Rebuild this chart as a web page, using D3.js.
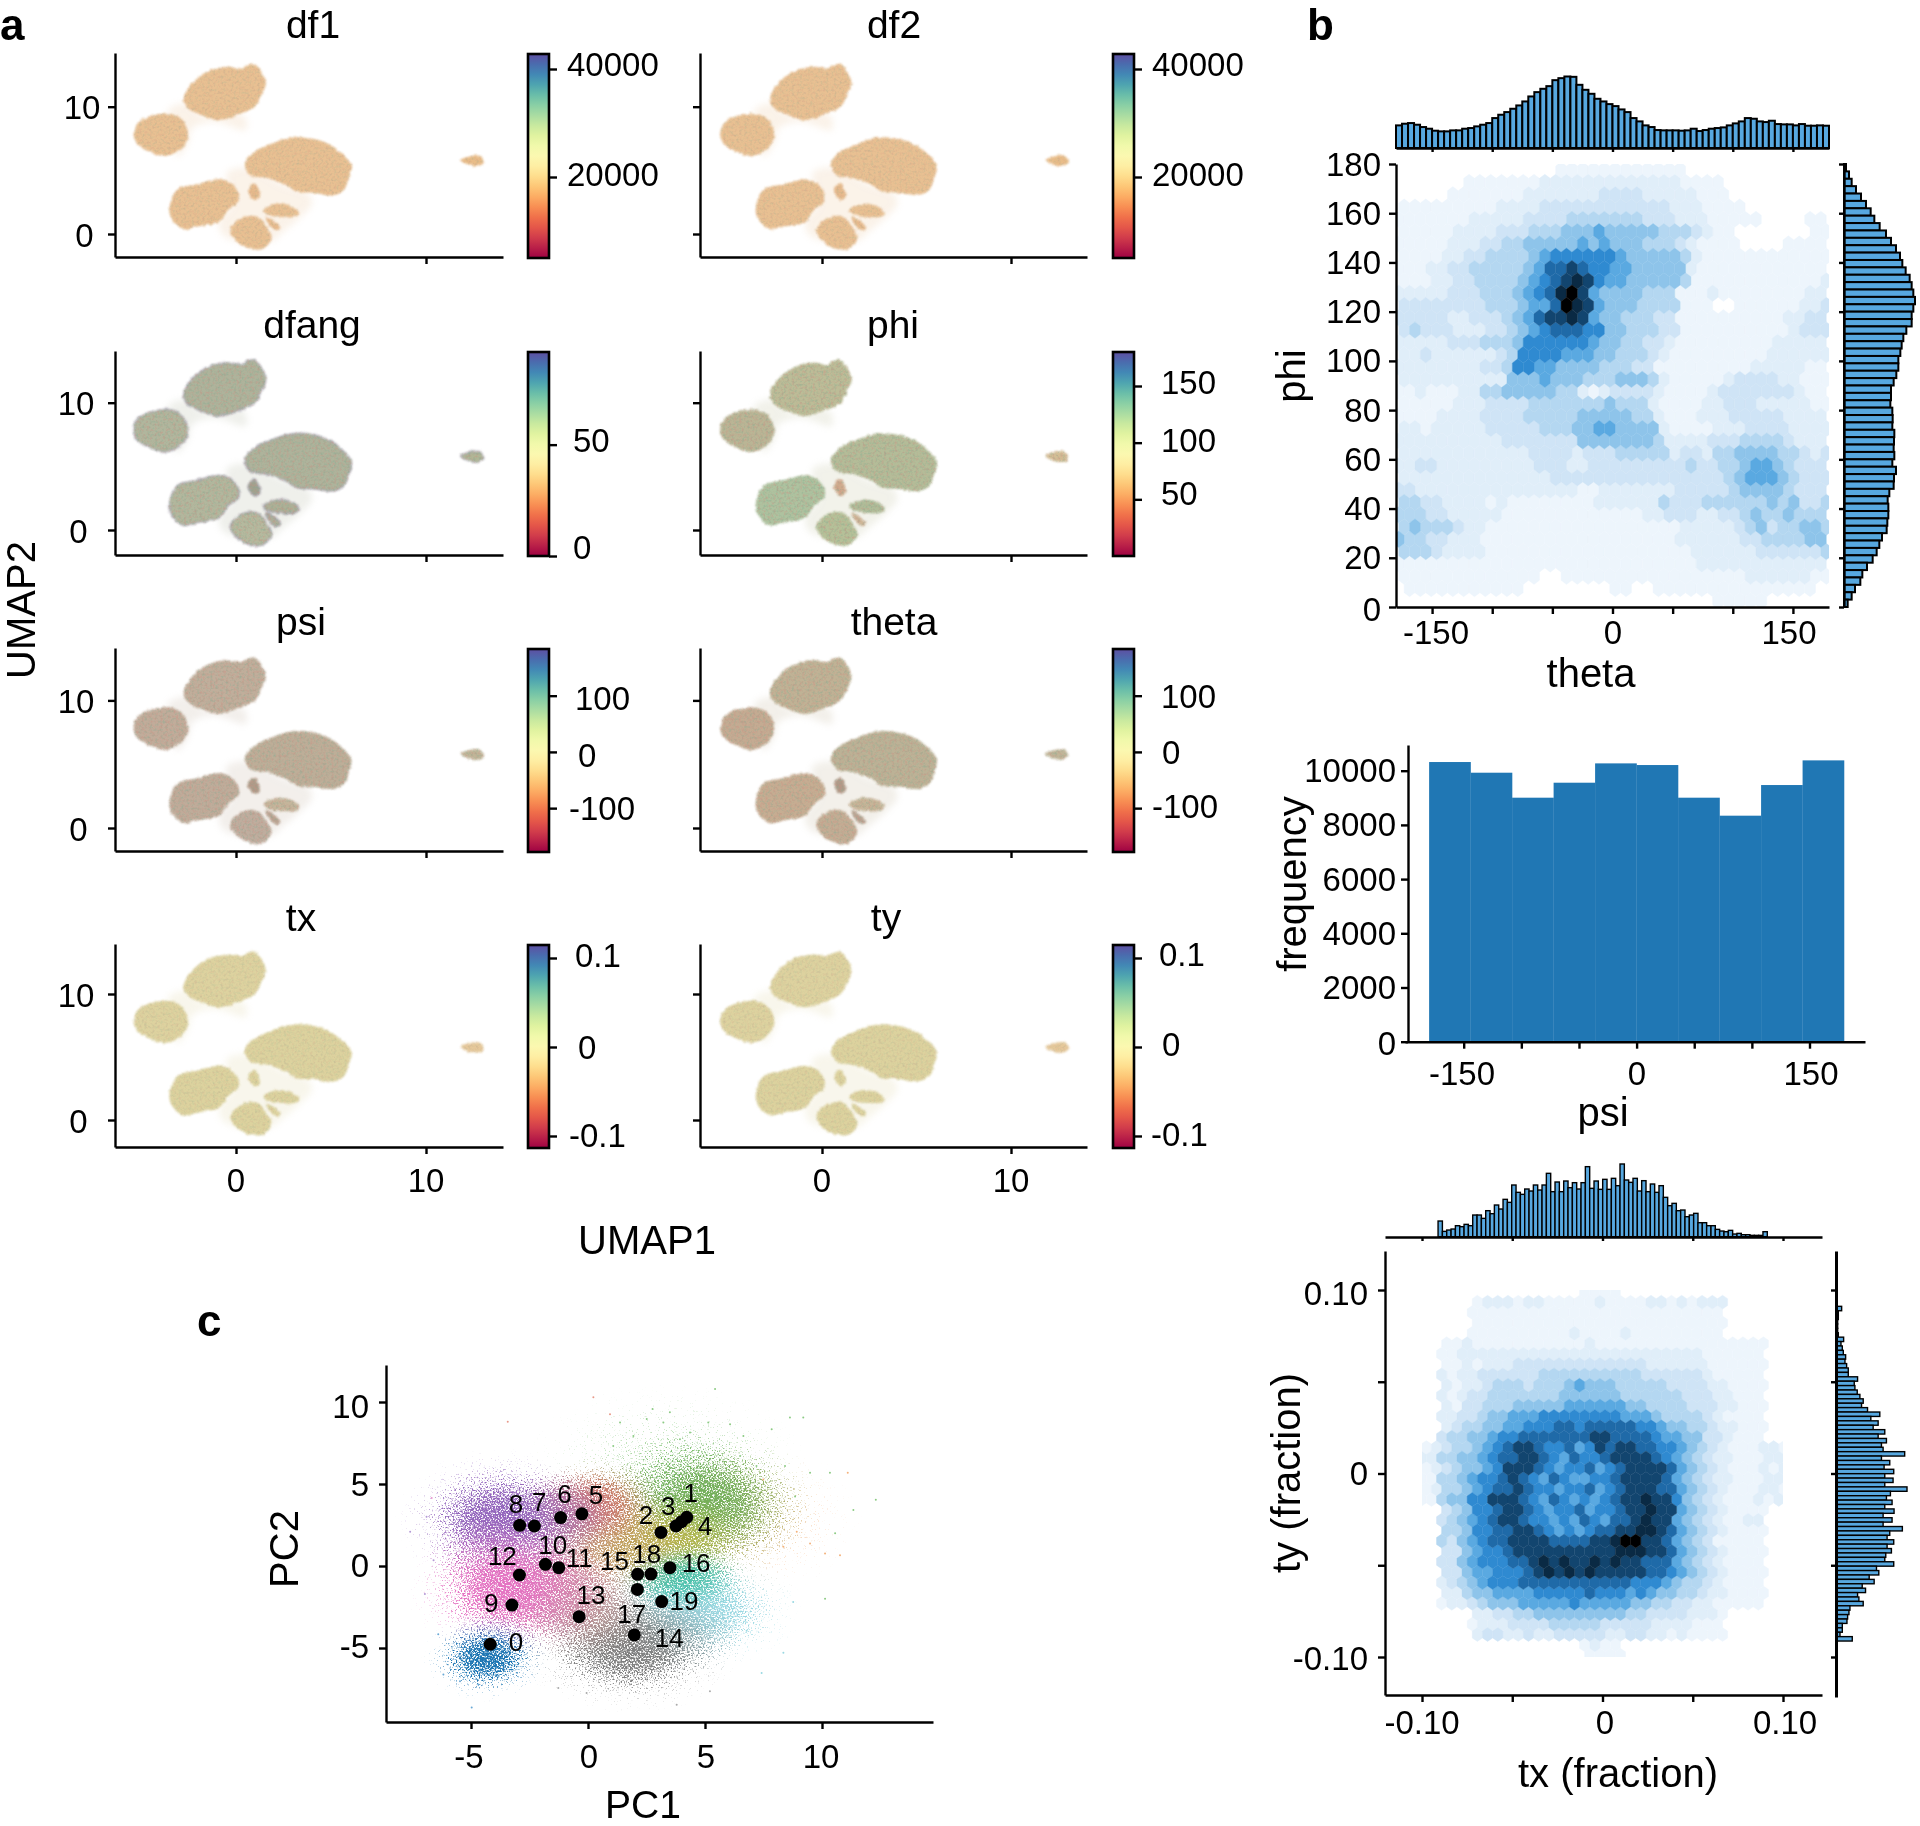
<!DOCTYPE html>
<html><head><meta charset="utf-8">
<script src="https://cdn.jsdelivr.net/npm/d3@7"></script>
<style>
html,body{margin:0;padding:0;background:#fff}
svg{display:block;filter:blur(.55px)}
text{font-family:"Liberation Sans",Arial,sans-serif;fill:#000}
</style></head><body><svg id="c" width="1920" height="1826"></svg>
<script>
// ---------- DATA ----------
const panelNames=["df1","df2","dfang","phi","psi","theta","tx","ty"];
// UMAP blob outlines [x,y] in UMAP units
const blobA=[[-2.76,10.52],[-2.53,11.44],[-1.94,12.36],[-1.24,12.93],[-.42,13.14],[.28,13.01],[.63,13.27],[.98,13.35],[1.33,12.75],[1.57,11.83],[1.33,10.92],[.98,10],[.28,9.48],[-.89,8.95],[-1.83,9.35],[-2.53,9.87]];
const blobB=[[-5.39,7.91],[-5.11,8.82],[-4.29,9.35],[-3.35,9.4],[-2.76,8.82],[-2.53,7.64],[-2.88,6.73],[-3.7,6.13],[-4.52,6.47],[-5.22,7.12]];
const blobC=[[.47,5.55],[.87,6.34],[1.69,6.99],[3.09,7.59],[4.73,7.17],[5.55,6.34],[6.07,5.37],[5.9,4.24],[5.67,3.46],[5.08,3.06],[4.03,3.25],[3.21,3.32],[2.62,3.85],[1.69,4.37],[.75,4.63]];
const blobD=[[-3.51,1.88],[-3.11,3.46],[-2.06,3.9],[-.77,4.29],[-.07,3.72],[.16,2.67],[-.42,1.88],[-.89,.97],[-2.06,.58],[-2.76,.37],[-3.35,1.1]];
const blobE=[[-.3,.31],[.28,1.23],[1.1,1.36],[1.69,.31],[1.87,-.34],[1.45,-1.13],[.87,-1.2],[.05,-.6]];
const blobF=[[1.45,1.88],[2.15,2.36],[2.97,2.15],[3.33,1.62],[3.09,1.36],[2.27,1.36],[1.69,1.49]];
const blobG=[[.63,3.46],[.98,3.98],[1.26,2.93],[.98,2.67]];
const blobH=[[1.57,1.36],[2.04,.97],[2.34,.45],[2.11,.31],[1.69,.84]];
const blobIsland=[[11.83,5.81],[12.22,6.07],[12.81,6.15],[13.04,5.68],[12.81,5.37],[12.27,5.42]];
const hazeUpper=[[-3.58,9.74],[-2.53,10.26],[-1.83,9.35],[.4,9.35],[.52,8.17],[-1.12,8.82],[-2.3,8.3],[-2.53,7.12],[-3.1,6.07],[-3.4,8.6]];
const hazeLower=[[-.5,4.8],[.8,5.2],[2.5,3.9],[3.8,3.2],[4,2.4],[3.3,1.2],[2.5,.2],[1.8,-.6],[-.6,-.2],[-.9,1],[-.2,2.5]];
const blobs=[blobA,blobB,blobC,blobD,blobE,blobF,blobG,blobH,blobIsland];
const hazes=[hazeUpper,hazeLower];
// blob colours per panel (A,B,C,D,E,F,G,H,island)
const fills={
 df1:["#e8c092","#e8c092","#e8c092","#e8c092","#e8c092","#e8c092","#e6ba8c","#e6ba8c","#e8bc88"],
 df2:["#e8c092","#e8c092","#e8c092","#e8c092","#e8c092","#e8c092","#e6ba8c","#e6ba8c","#e8bc88"],
 dfang:["#aeb39b","#b1b69d","#aeb39b","#b2b79d","#b5b99e","#adb096","#a0a28e","#aeae96","#b0b696"],
 phi:["#bcbc97","#bab595","#b4bc98","#aec29f","#b5c098","#b0bc98","#cfaa8c","#ccb394","#d3bd95"],
 psi:["#c0ae9b","#c1ac9a","#bdae98","#bfac9a","#bfad9e","#c5b59b","#b09a88","#b8a290","#c0b598"],
 theta:["#c0b295","#c4ab92","#bcb296","#c6ad92","#c3ad94","#c6b598","#b09a88","#b8a290","#c0b598"],
 tx:["#ddd29f","#ddd29f","#dcd29e","#dcd29e","#dcd29e","#dcd29e","#dcd29e","#dcd29e","#e5c89a"],
 ty:["#ddd29f","#ddd29f","#dcd29e","#dcd29e","#dcd29e","#dcd29e","#dcd29e","#dcd29e","#e5c89a"]
};
// speckle strength per panel
const mottle={df1:.14,df2:.14,dfang:.28,phi:.28,psi:.28,theta:.28,tx:.12,ty:.12};
// colourbar ranges and ticks
const barDomains={df1:[5000,42778],df2:[5000,42778],dfang:[0,91.6],phi:[0,180],psi:[-178,183],theta:[-178,183],tx:[-.1135,.1146],ty:[-.1135,.1146]};
const barTicks={df1:[20000,40000],df2:[20000,40000],dfang:[0,50],phi:[50,100,150],psi:[-100,0,100],theta:[-100,0,100],tx:[-.1,0,.1],ty:[-.1,0,.1]};
const umapXTicks=[0,10], umapYTicks=[0,10];

// psi histogram
const psiCounts=[10320,9926,9004,9557,10270,10209,9004,8340,9471,10381];
// marginal histograms (counts read in arbitrary units)
const thetaCounts=[68,73,75,70,63,58,52,50,50,53,53,58,60,65,70,75,90,100,108,118,128,140,155,168,178,186,204,210,215,214,190,175,163,148,140,132,126,116,108,90,80,68,63,54,53,53,53,52,53,58,51,54,58,60,62,68,74,80,90,88,80,78,82,72,71,71,68,72,67,67,68,67];
const phiCounts=[6,15,23,36,51,66,80,91,107,126,141,156,168,175,185,197,203,208,213,208,203,203,187,178,173,169,163,163,157,149,141,141,139,145,146,145,151,150,149,151,145,156,150,149,136,131,133,133,130,128,114,106,98,86,69,55,49,33,23,11];
const txCounts=[47,16,20,23,33,30,37,33,65,65,55,78,69,95,83,112,103,155,133,127,143,137,155,140,155,190,135,164,135,167,147,162,143,162,210,145,167,142,172,142,175,153,218,170,163,175,137,168,135,158,133,153,118,93,100,78,80,60,65,70,42,42,33,33,22,17,15,19,8,10,6,6,4,4,4,15];
const tyCounts=[17,7,7,5,5,5,7,23,15,19,22,29,27,32,37,37,65,55,57,64,72,82,77,95,132,105,127,112,147,127,152,137,142,207,137,162,145,174,147,172,147,214,164,152,169,147,175,142,169,142,200,162,154,174,154,167,150,147,174,122,129,100,115,79,89,65,69,82,42,39,35,33,19,19,12,49];

// hexbin density levels (base-12 digit per hexagon, top row first, groups of ten columns)
const thetaPhiHex=[
"0000000000 0000011111 1111111000 0000000000",
"0000001111 1112222222 2222221111 0000000000",
"0000011111 1122222223 3332222211 1000000000",
"1111111112 2223333333 3333322211 1100000000",
"1111111222 2233334444 4443332221 1111000011",
"1111122223 3344455565 5555444321 1000000011",
"1111122233 4455555656 5554443211 1100001111",
"1111223344 4456777777 6555554211 1111111111",
"1112233444 4456889877 6655555211 1111111111",
"1112233444 456789a976 6555554111 1111111112",
"2222233344 45678ab965 5554441112 1111111122",
"3333333344 45668ba965 5544441110 0111111223",
"3333322333 456899a965 5444331111 1111112233",
"3433322233 4567888775 5444331111 1111112333",
"2222233344 4577777765 5443321111 1111122222",
"2232222223 4777766655 4443211111 1111222222",
"2222222233 4776655554 4433111111 1112222211",
"2222222222 5556555444 5554211111 2333322111",
"1121112244 5555544212 3333211112 3333333211",
"1111122233 3344444445 4442111122 3332222211",
"1111222233 3344444555 5544211122 2333332222",
"2212222233 3334445566 5555211112 2233332222",
"2222222222 3333333555 5555422223 3344443222",
"2222222222 2233332333 4444423324 4555544323",
"2233222222 2223332233 3333333433 4456654333",
"2222222222 2222333333 3333333333 4566654333",
"3322222222 2222222112 2222223333 3455554333",
"4433222212 1111111122 2222433344 4444545334",
"4443322222 1111111111 1112233322 3345445444",
"4544432211 1111111111 1111112222 2345344554",
"5443322211 1111111111 1111112222 2233444455",
"4443222211 1111111111 1111111222 2223333334",
"1111111111 1111111111 1111111122 2222222222",
"1111111111 1110011111 1111111111 1122222211",
"0111111111 1100000000 1100111111 1111111110",
"0000000000 0000000000 0000000001 1111000000"
];
const txTyHex=[
"0000000000 0000000011 1100000000 0000000000",
"0000000000 0000000011 1100000000 0000000000",
"0000000000 0000000011 1100000000 0000000000",
"0000000122 2122111112 1111221212 2200000000",
"0000000111 1111111111 1111111111 1100000000",
"0000000111 1111111111 1111111111 1100000000",
"0000000111 1111111211 1121111111 1100000000",
"0000112111 1111111121 1111111111 1111110000",
"0000112222 2222222222 2222222222 1111110000",
"0000112122 2333333333 3333222222 1111110000",
"0000212233 3333444444 4444333333 2111110000",
"0000212234 4434445655 5444443333 2211110000",
"0000212334 4444445555 5544444433 3221110000",
"0000213344 4555556666 6655444433 3221110000",
"0000223345 5666777777 7766654444 3211110000",
"0000234455 6677788788 8887765544 3221110000",
"0000344556 7788888889 9888876655 3321110000",
"2212344567 8998778679 8998877654 3211122112",
"2322445567 8899876877 8999987654 3221112222",
"1212345567 9998767786 7899998654 3211121211",
"2211445677 8987687667 7899998654 3221112221",
"1212445678 8987767786 7899988654 3211122122",
"2211455779 9987687676 7899a99754 3211121212",
"0000345778 9987677867 7899a99654 3211110000",
"0000345678 9987767687 6889a99654 3211220000",
"0000445778 8998767678 899aa98654 3211110000",
"0000435678 8999988889 9abb998654 3111110000",
"0000335677 8999999999 9aaa998654 3211110000",
"0000335677 7889a9a99a 9a99888654 3211110000",
"0000335667 7789a9a9a9 9999887654 3211110000",
"0000234567 7788888888 8887776544 3211110000",
"0000224556 6667777787 7767655443 2211110000",
"0000122345 5566666766 6665544332 2111110000",
"0000000223 3445555555 5544333322 2100000000",
"0000000122 2333344444 3333322221 1100000000",
"0000000233 2232233333 2233221211 1100000000",
"0000000000 0000000012 1100000000 0000000000",
"0000000000 0000000011 1100000000 0000000000",
"0000000000 0000000011 1100000000 0000000000",
"0000000000 0000000012 1100000000 0000000000"
];
const hexLevels=["#ffffff","#edf5fc","#e0eef9","#cfe4f6","#b4d7f1","#8ec4ea","#5aa9e1","#2f8ad1","#1f6aa8","#12456f","#0a2a44","#000000"];

// PCA cluster clouds
const cloudCx=[3.4,7,5,4.6,1.8,3.6,3.9,1.1,0,.37,-1,-1.3,-3.76,-3.5,-4.33];
const cloudCy=[6,2.8,3.8,-2.7,-5,1.6,-.7,1.2,-2.6,3.8,3.2,-1.3,2.8,-1.3,-5.6];
const cloudRx=[6.2,4.8,4.8,4.7,4.9,3.6,3.2,3.8,3.4,3,3.2,3.6,4.5,4.3,2.8];
const cloudRy=[5.2,4.8,4.6,3.9,4,3,2.2,3.4,3.2,2.9,3,4.2,4.4,4.5,2.7];
const cloudColor=["#8ccb84","#f4b27c","#6fae58","#9ad8e2","#7f7f7f","#b9b84a","#44bfa7","#c2a060","#b99a92","#d6785e","#b977a4","#cd8ba4","#9467bd","#e574c3","#1f77b4"];
const cloudPeak=[.35,.35,.95,.95,.95,.85,.9,.8,.7,.85,.8,.8,1,1,1];
// sparse outlying points
const outX=[5.43,2.76,3.22,1.37,5.14,6.07,7.85,8.63,9.2,.94,.23,-3.43,8.42,9.49,10.34,8.85,11.34,12.3,10.56,10.13,11.1,10.77,10.13,9.49,8.92,8.35,8.77,8.35,7.42,6.78,5.21,3.79,1.79,-1.27,-.06,-4.97,-6.18,-5.47,-4.69,-6.4,-7.6,-6.9,-6.97,-6.68,-6.6,1.08,1.94,3.93,4.36,6.5,7.2,7.49,6.64,2.51,3.5];
const outY=[10.8,9.57,8.75,8.75,8.75,8.65,8.34,9.06,9.06,9.26,10.29,8.8,6.09,5.68,5.68,4.24,3.42,4.04,1.99,-2,5.68,.66,.76,1.37,2.09,1.17,-2.2,-5.29,-6.52,-3.95,-7.64,-8.46,-7.23,-7.44,-7.75,-8.63,-6.62,-7.03,-7.23,-4.16,2.09,3.01,-1.7,4.14,.35,7.32,7.93,7.73,8.14,6.7,6.09,5.27,7.93,8.96,9.37];
const outColor=["#8ccb84","#8ccb84","#8ccb84","#8ccb84","#8ccb84","#8ccb84","#8ccb84","#8ccb84","#8ccb84","#e89a8a","#e89a8a","#e89a8a","#8ccb84","#8ccb84","#8ccb84","#8ccb84","#8ccb84","#8ccb84","#8ccb84","#8ccb84","#f4b27c","#f4b27c","#f4b27c","#f4b27c","#f4b27c","#f4b27c","#9ad8e2","#9ad8e2","#9ad8e2","#9ad8e2","#aaaaaa","#aaaaaa","#aaaaaa","#aaaaaa","#aaaaaa","#6aa9d6","#6aa9d6","#6aa9d6","#6aa9d6","#6aa9d6","#b49ad6","#b49ad6","#b49ad6","#e89ad0","#b49ad6","#8ccb84","#8ccb84","#8ccb84","#8ccb84","#8ccb84","#8ccb84","#f4b27c","#8ccb84","#8ccb84","#8ccb84"];
// cluster centroids and their numeric labels
const centroidIds=[0,1,2,3,4,5,6,7,8,9,10,11,12,13,14,15,16,17,18,19];
const centroidX=[-4.18,4.22,3.12,3.76,4,-.26,-1.17,-2.29,-2.92,-3.25,-1.82,-1.25,-2.93,-.38,1.98,2.12,3.5,2.11,2.69,3.15];
const centroidY=[-4.77,2.97,2.05,2.44,2.7,3.18,2.95,2.44,2.48,-2.38,.1,-.1,-.55,-3.09,-4.2,-.51,-.1,-1.43,-.49,-2.17];
const labelX=[-3.08,4.39,2.48,3.43,5,.34,-1,-2.08,-3.08,-4.14,-1.51,-.37,-3.66,.13,3.47,1.13,4.62,1.87,2.51,4.1];
const labelY=[-4.62,4.44,3.11,3.67,2.46,4.34,4.4,3.93,3.79,-2.26,1.27,.51,.61,-1.76,-4.36,.28,.2,-2.9,.72,-2.11];

// ---------- DRAWING ----------
const svg=d3.select("#c"), defs=svg.append("defs");
const TICK=33, TITLE=39, AXT=40;
const blackLine=g=>g.selectAll("path,line").attr("stroke","#000").attr("stroke-width",2.4);
function axis(gen,tx,ty){
  const g=svg.append("g").attr("transform",`translate(${tx},${ty})`).call(gen).call(blackLine);
  g.selectAll("text").remove();
  return g;
}
function label(t,x,y,o={}){
  const e=svg.append("text").text(t).attr("x",x).attr("y",y).attr("dominant-baseline","central")
   .attr("text-anchor",o.a||"middle").attr("font-size",o.s||TICK);
  if(o.b)e.attr("font-weight","bold");
  if(o.r)e.attr("transform",`rotate(-90 ${x} ${y})`);
  return e;
}
// ---- panel a
const colL=[115,700], colX0=[236,822], colX10=[426,1011], colR=[503,1087];
const barL=[528,1113], barW=21;
const rowTop=[53,351,648,944], rowBot=[257,555,851,1147];
const rowY0=[234,530,828,1120], rowY10=[106.7,402.7,700.4,994];
const yLabCenter=[[84.5,82],[78.5,76],[78.5,76],[78.5,76]];
const titleXY=[[313,24],[894,24],[312,324],[893,324],[301,621],[894,621],[301,917],[886,917]];
const barLabelY={df1:[174,64],df2:[174,64],dfang:[547,440],phi:[493,440,382],psi:[808,755,698],theta:[806,752,696],tx:[1135,1047,955],ty:[1134,1044,954]};
const barLabelX={df1:[567,567],df2:[1152,1152],dfang:[573,573],phi:[1161,1161,1161],psi:[569,578,575],theta:[1152,1162,1161],tx:[569,578,575],ty:[1151,1162,1159]};

const spectral=defs.append("linearGradient").attr("id","spec").attr("x1",0).attr("x2",0).attr("y1",1).attr("y2",0);
d3.range(0,1.001,.05).forEach(t=>spectral.append("stop").attr("offset",t).attr("stop-color",d3.interpolateSpectral(t)));

function mottleFilter(id,s,seed){
  const f=defs.append("filter").attr("id",id).attr("x","-5%").attr("y","-5%").attr("width","110%").attr("height","110%").attr("color-interpolation-filters","sRGB");
  f.append("feTurbulence").attr("type","fractalNoise").attr("baseFrequency",.3).attr("numOctaves",2).attr("seed",seed+20).attr("result","e");
  f.append("feDisplacementMap").attr("in","SourceGraphic").attr("in2","e").attr("scale",3.5).attr("xChannelSelector","R").attr("yChannelSelector","G").attr("result","d0");
  f.append("feGaussianBlur").attr("in","d0").attr("stdDeviation",.9).attr("result","d");
  f.append("feTurbulence").attr("type","fractalNoise").attr("baseFrequency",.38).attr("numOctaves",2).attr("seed",seed).attr("result","n");
  f.append("feColorMatrix").attr("in","n").attr("type","matrix").attr("values",`0 0 0 0 .5  0 0 0 0 .66  0 0 0 0 .56  ${4*s} 0 0 0 ${-1.9*s}`).attr("result","t1");
  f.append("feComposite").attr("in","t1").attr("in2","d").attr("operator","in").attr("result","t1c");
  f.append("feColorMatrix").attr("in","n").attr("type","matrix").attr("values",`0 0 0 0 .8  0 0 0 0 .55  0 0 0 0 .5  0 ${4*s} 0 0 ${-1.9*s}`).attr("result","t2");
  f.append("feComposite").attr("in","t2").attr("in2","d").attr("operator","in").attr("result","t2c");
  const m=f.append("feMerge");["d","t1c","t2c"].forEach(k=>m.append("feMergeNode").attr("in",k));
}
defs.append("filter").attr("id","haze").attr("x","-20%").attr("y","-20%").attr("width","140%").attr("height","140%").append("feGaussianBlur").attr("stdDeviation",3.5);

panelNames.forEach((name,i)=>{
  const col=i%2,row=Math.floor(i/2);
  const x=d3.scaleLinear().domain([0,10]).range([colX0[col],colX10[col]]);
  const y=d3.scaleLinear().domain([0,10]).range([rowY0[row],rowY10[row]]);
  const line=d3.line().x(d=>x(d[0])).y(d=>y(d[1])).curve(d3.curveCatmullRomClosed.alpha(.5));
  mottleFilter("m"+i,mottle[name],i+2);
  const gh=svg.append("g").attr("filter","url(#haze)").attr("opacity",.2);
  hazes.forEach(h=>gh.append("path").attr("d",line(h)).attr("fill",fills[name][0]));
  const gb=svg.append("g").attr("filter",`url(#m${i})`);
  blobs.forEach((b,k)=>gb.append("path").attr("d",line(b)).attr("fill",fills[name][k])
     .attr("stroke",name==="dfang"?"#9a94a8":"none").attr("stroke-width",name==="dfang"?1.5:0).attr("stroke-opacity",.7));
  axis(d3.axisBottom(d3.scaleLinear().domain([x.invert(colL[col]),x.invert(colR[col])]).range([0,colR[col]-colL[col]])).tickValues(umapXTicks).tickSize(7).tickSizeOuter(0),colL[col],rowBot[row]);
  axis(d3.axisLeft(d3.scaleLinear().domain([y.invert(rowBot[row]),y.invert(rowTop[row])]).range([rowBot[row]-rowTop[row],0])).tickValues(umapYTicks).tickSize(7).tickSizeOuter(0),colL[col],rowTop[row]);
  if(col===0){umapYTicks.forEach((v,n)=>label(v,yLabCenter[row][n],y(v)+1));}
  if(row===3){umapXTicks.forEach(v=>label(v,x(v),1180));}
  label(name,titleXY[i][0],titleXY[i][1],{s:TITLE});
  const cb=d3.scaleLinear().domain(barDomains[name]).range([rowBot[row]+1,rowTop[row]+1]);
  svg.append("rect").attr("x",barL[col]).attr("y",rowTop[row]+1).attr("width",barW).attr("height",rowBot[row]-rowTop[row])
    .attr("fill","url(#spec)").attr("stroke","#000").attr("stroke-width",2.6);
  axis(d3.axisRight(cb).tickValues(barTicks[name]).tickSize(8).tickSizeOuter(0),barL[col]+barW,0).select(".domain").remove();
  barTicks[name].forEach((v,n)=>label(String(v),barLabelX[name][n],barLabelY[name][n],{a:"start"}));
});
label("UMAP1",647,1240,{s:AXT});
label("UMAP2",21,610,{s:AXT,r:1});
label("a",0,24,{a:"start",s:44,b:1});
label("b",1307,24,{a:"start",s:44,b:1});
label("c",197,1320,{a:"start",s:44,b:1});

// hexbin helper
const levelColor=d3.scaleLinear().domain(hexLevels.map((_,i)=>i)).range(hexLevels);
function hexbin(rowsIn,x,y,x0,dx,y0,dy,clip){
  const rows=rowsIn.map(r=>r.replace(/ /g,""));
  const w=Math.abs(x(x0+dx)-x(x0)), rs=Math.abs(y(y0+dy)-y(y0)), h=rs*4/3;
  const shape=`M0,${-h/2}L${w/2},${-h/4}L${w/2},${h/4}L0,${h/2}L${-w/2},${h/4}L${-w/2},${-h/4}Z`;
  const cells=[];
  rows.forEach((r,ri)=>[...r].forEach((ch,ci)=>{
    const v=parseInt(ch,12); if(v>0)cells.push({v,ci:ci+(ri%2?.75:.25),ri:ri+.5});
  }));
  defs.append("clipPath").attr("id",clip).append("rect").attr("x",x.range()[0]).attr("y",y.range()[1]).attr("width",x.range()[1]-x.range()[0]).attr("height",y.range()[0]-y.range()[1]);
  svg.append("g").attr("clip-path",`url(#${clip})`).selectAll("path").data(cells.sort((a,b)=>a.v-b.v)).join("path")
    .attr("d",shape).attr("transform",d=>`translate(${x(x0+dx*d.ci)},${y(y0+dy*d.ri)})`)
    .attr("fill",d=>levelColor(d.v)).attr("stroke",d=>levelColor(d.v)).attr("stroke-width",.4);
}
const histFill="#57a8e0";
// ---- panel b: theta / phi
const thetaX=d3.scaleLinear().domain([-180,180]).range([1396,1829]);
const phiY=d3.scaleLinear().domain([0,180]).range([607,164]);
hexbin(thetaPhiHex,thetaX,phiY,-180,9,180,-5,"clipA");
axis(d3.axisBottom(thetaX).tickValues([-150,-100,-50,0,50,100,150]).tickSize(7).tickSizeOuter(0),0,607);
axis(d3.axisLeft(phiY).tickValues(d3.range(0,181,20)).tickSize(7).tickSizeOuter(0),1396,0);
d3.range(0,181,20).forEach(v=>label(v,1381,phiY(v)+(v==0?2:0),{a:"end"}));
[-150,0,150].forEach((v,i)=>label(v,[1436,1613,1789][i],632));
label("theta",1591,673,{s:AXT});
label("phi",1291,376,{s:AXT,r:1});
const tH=d3.scaleLinear().domain([0,215]).range([148,76.5]);
const thetaBin=d3.scaleLinear().domain([0,thetaCounts.length]).range([-180,180]);
svg.append("g").selectAll("rect").data(thetaCounts).join("rect")
  .attr("x",(d,i)=>thetaX(thetaBin(i))).attr("width",(d,i)=>thetaX(thetaBin(i+1))-thetaX(thetaBin(i)))
  .attr("y",d=>tH(d)).attr("height",d=>148-tH(d)).attr("fill",histFill).attr("stroke","#000").attr("stroke-width",2);
axis(d3.axisBottom(thetaX).tickValues([-150,-100,-50,0,50,100,150]).tickSize(4).tickSizeOuter(0),0,148);
const rH=d3.scaleLinear().domain([0,213]).range([1844,1915]);
const phiBin=d3.scaleLinear().domain([0,phiCounts.length]).range([180,0]);
svg.append("g").selectAll("rect").data(phiCounts).join("rect")
  .attr("y",(d,i)=>phiY(phiBin(i))).attr("height",(d,i)=>phiY(phiBin(i+1))-phiY(phiBin(i)))
  .attr("x",1844).attr("width",d=>rH(d)-1844).attr("fill",histFill).attr("stroke","#000").attr("stroke-width",2);
axis(d3.axisLeft(phiY).tickValues(d3.range(0,181,20)).tickSize(5).tickSizeOuter(0),1844,0);

// psi histogram
const psiX=d3.scaleLinear().domain([-150,150]).range([1463.7,1809.5]);
const psiY=d3.scaleLinear().domain([0,10000]).range([1041.7,770.7]);
const psiBin=d3.scaleLinear().domain([0,psiCounts.length]).range([-180,180]);
svg.append("g").selectAll("rect").data(psiCounts).join("rect")
  .attr("x",(d,i)=>psiX(psiBin(i))).attr("width",(d,i)=>psiX(psiBin(i+1))-psiX(psiBin(i))+.2)
  .attr("y",d=>psiY(d)).attr("height",d=>psiY(0)-psiY(d)).attr("fill","#2077b4");
axis(d3.axisBottom(d3.scaleLinear().domain([psiX.invert(1405),psiX.invert(1865)]).range([1405,1865])).tickValues([-150,-100,-50,0,50,100,150]).tickSize(7).tickSizeOuter(0),0,1041.7);
axis(d3.axisLeft(d3.scaleLinear().domain([0,psiY.invert(745)]).range([1041.7,745])).tickValues(d3.range(0,10001,2000)).tickSize(7).tickSizeOuter(0),1408,0);
d3.range(0,10001,2000).forEach(v=>label(v,1396,psiY(v)+(v==0?2:0),{a:"end"}));
[-150,0,150].forEach((v,i)=>label(v,[1462,1637,1811][i],1073));
label("psi",1603,1112,{s:AXT});
label("frequency",1292,884,{s:AXT,r:1});

// ---- tx / ty
const txX=d3.scaleLinear().domain([-.1,.1]).range([1422,1783]);
const tyY=d3.scaleLinear().domain([-.1,.1]).range([1657,1290]);
hexbin(txTyHex,txX,tyY,-.1132,.00566,.1132,-.00566,"clipB");
const txAxisScale=d3.scaleLinear().domain([txX.invert(1385),txX.invert(1822)]).range([1385,1822]);
axis(d3.axisBottom(txAxisScale).tickValues([-.1,-.05,0,.05,.1]).tickSize(7).tickSizeOuter(0),0,1695);
axis(d3.axisLeft(d3.scaleLinear().domain([tyY.invert(1695),tyY.invert(1251)]).range([1695,1251])).tickValues([-.1,-.05,0,.05,.1]).tickSize(7).tickSizeOuter(0),1385,0);
["-0.10","0","0.10"].forEach((t,i)=>label(t,[1422,1605,1785][i],1722));
["-0.10","0","0.10"].forEach((t,i)=>label(t,1368,[1658,1473,1293][i],{a:"end"}));
label("tx (fraction)",1618,1773,{s:AXT});
label("ty (fraction)",1286,1473,{s:AXT,r:1});
const binW=.0024, txStart=-.0911, tyStart=.0911;
const tH2=d3.scaleLinear().domain([0,218]).range([1236.7,1164]);
svg.append("g").selectAll("rect").data(txCounts).join("rect")
  .attr("x",(d,i)=>txX(txStart+i*binW)).attr("width",txX(binW)-txX(0))
  .attr("y",d=>tH2(d)).attr("height",d=>1236.7-tH2(d)).attr("fill",histFill).attr("stroke","#000").attr("stroke-width",1.4);
axis(d3.axisBottom(txAxisScale).tickValues([-.1,-.05,0,.05,.1]).tickSize(4).tickSizeOuter(0),0,1237);
const rH2=d3.scaleLinear().domain([0,214]).range([1836,1907]);
svg.append("g").selectAll("rect").data(tyCounts).join("rect")
  .attr("y",(d,i)=>tyY(tyStart-i*binW)).attr("height",tyY(0)-tyY(binW))
  .attr("x",1836).attr("width",d=>rH2(d)-1836).attr("fill",histFill).attr("stroke","#000").attr("stroke-width",1.4);
axis(d3.axisLeft(d3.scaleLinear().domain([tyY.invert(1697),tyY.invert(1251)]).range([1697,1251])).tickValues([-.1,-.05,0,.05,.1]).tickSize(5).tickSizeOuter(0),1836,0).select(".domain").attr("stroke-width",3);

// ---- panel c
const pcX=d3.scaleLinear().domain([0,5]).range([588,705]);
const pcY=d3.scaleLinear().domain([0,5]).range([1566,1484]);
const sp=defs.append("filter").attr("id","speck").attr("filterUnits","userSpaceOnUse").attr("x",388).attr("y",1365).attr("width",560).attr("height",355).attr("color-interpolation-filters","sRGB");
sp.append("feTurbulence").attr("type","fractalNoise").attr("baseFrequency",.62).attr("numOctaves",2).attr("seed",7).attr("result","n");
sp.append("feColorMatrix").attr("in","n").attr("type","matrix").attr("values","0 0 0 0 0  0 0 0 0 0  0 0 0 0 0  2.2 0 0 0 -.6").attr("result","n2");
sp.append("feComposite").attr("in","SourceAlpha").attr("in2","n2").attr("operator","arithmetic").attr("k1",0).attr("k2",2.4).attr("k3",2.4).attr("k4",-2.4).attr("result","mask");
sp.append("feColorMatrix").attr("in","SourceGraphic").attr("type","matrix").attr("values","1 0 0 0 0  0 1 0 0 0  0 0 1 0 0  0 0 0 0 1").attr("result","flat");
sp.append("feComposite").attr("in","flat").attr("in2","mask").attr("operator","in");
cloudColor.forEach((c,i)=>{
  const g=defs.append("radialGradient").attr("id","cl"+i);
  [[0,.97],[.3,.8],[.55,.42],[.75,.16],[.9,.05],[1,0]].forEach(([o,a])=>g.append("stop").attr("offset",o).attr("stop-color",c).attr("stop-opacity",a*cloudPeak[i]));
});
const gc=svg.append("g").attr("filter","url(#speck)");
cloudColor.forEach((c,i)=>gc.append("ellipse").attr("cx",pcX(cloudCx[i])).attr("cy",pcY(cloudCy[i]))
  .attr("rx",pcX(cloudRx[i])-pcX(0)).attr("ry",pcY(0)-pcY(cloudRy[i])).attr("fill",`url(#cl${i})`));
svg.append("g").selectAll("circle").data(outX).join("circle").attr("cx",d=>pcX(d)).attr("cy",(d,i)=>pcY(outY[i])).attr("r",1).attr("fill",(d,i)=>outColor[i]);
svg.append("g").selectAll("circle").data(centroidIds).join("circle").attr("cx",i=>pcX(centroidX[i])).attr("cy",i=>pcY(centroidY[i])).attr("r",6.5).attr("fill","#000");
centroidIds.forEach(i=>label(i,pcX(labelX[i]),pcY(labelY[i]),{s:26}));
axis(d3.axisBottom(d3.scaleLinear().domain([pcX.invert(386),pcX.invert(933)]).range([386,933])).tickValues([-5,0,5,10]).tickSize(7).tickSizeOuter(0),0,1722);
axis(d3.axisLeft(d3.scaleLinear().domain([pcY.invert(1722),pcY.invert(1365)]).range([1722,1365])).tickValues([-5,0,5,10]).tickSize(7).tickSizeOuter(0),386,0);
[-5,0,5,10].forEach((v,i)=>label(v,[469,589,706,821][i],1756));
[-5,0,5,10].forEach((v,i)=>label(v,369,[1646,1565,1484,1406][i],{a:"end"}));
label("PC1",643,1804,{s:39});
label("PC2",284,1549,{s:AXT,r:1});
</script></body></html>
